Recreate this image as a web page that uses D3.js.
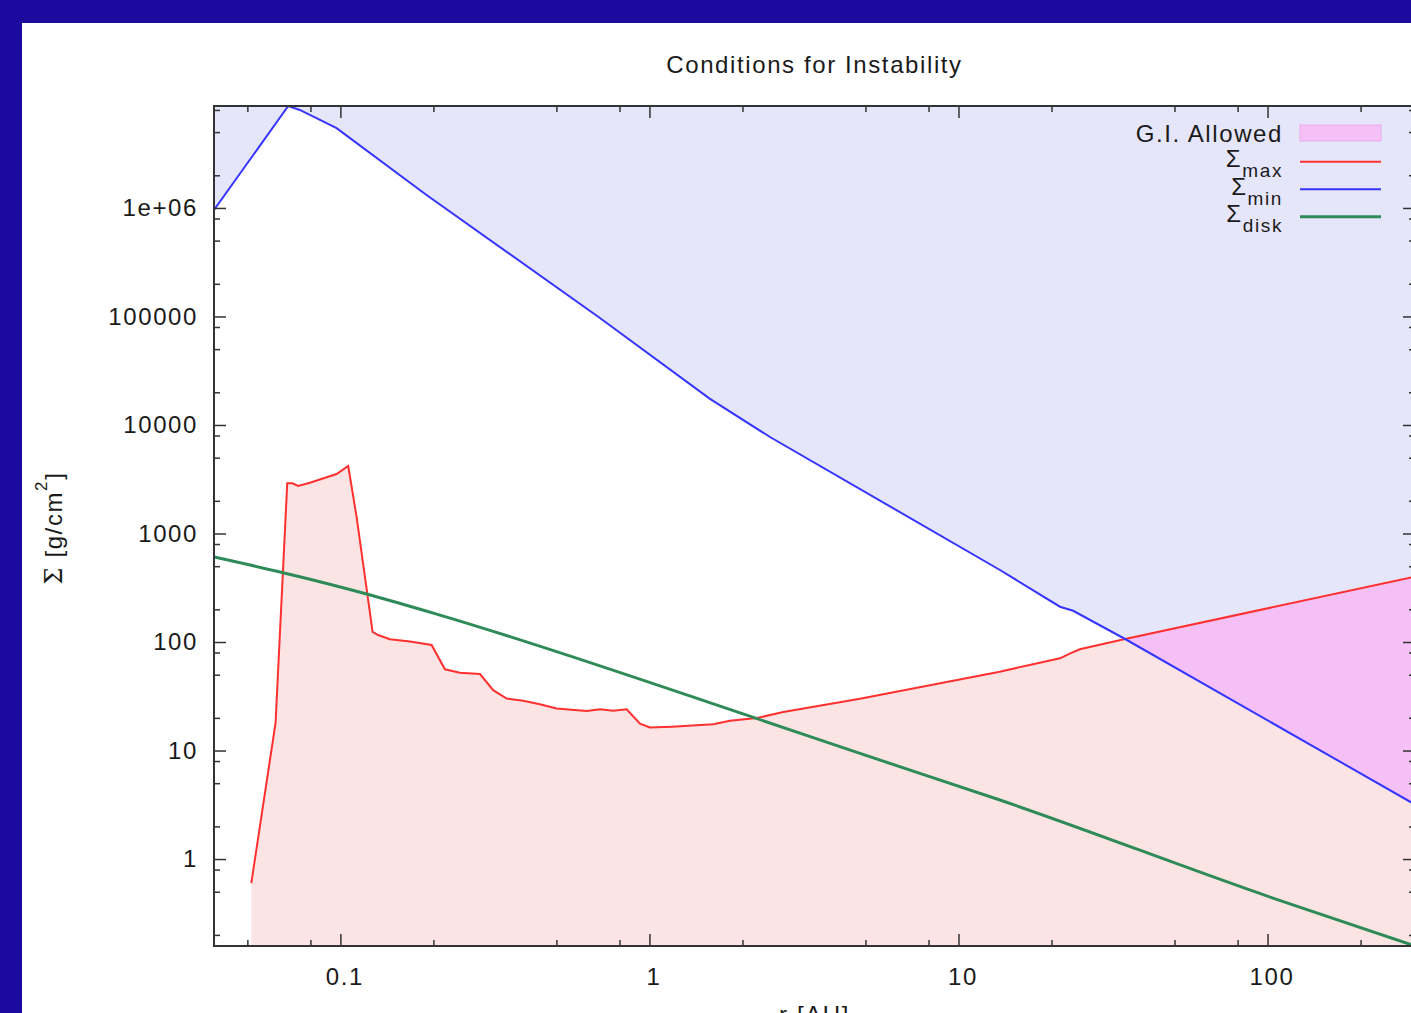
<!DOCTYPE html>
<html>
<head>
<meta charset="utf-8">
<script src="https://cdn.jsdelivr.net/npm/d3@7"></script>
<style>
body { margin: 0; background: #1a0a9e; overflow: hidden; }
text { font-family: "Liberation Sans", Arial, sans-serif; letter-spacing: 1.6px; fill: #1a1a1a; }
</style>
</head>
<body>
<svg id="chart" width="1411" height="1013"></svg>
<script>
// Sigma_max (red) : r [AU], Sigma [g/cm2]
var rMax = [0.0515, 0.0617, 0.0673, 0.0700, 0.0730, 0.0797, 0.0972, 0.106, 0.1128, 0.123,
    0.1271, 0.1325, 0.1446, 0.1679, 0.1973, 0.2179, 0.2436, 0.2829, 0.3123, 0.3451,
    0.3905, 0.4421, 0.5007, 0.6262, 0.6915, 0.7636, 0.8437, 0.9318, 1.004, 1.183,
    1.609, 1.822, 2.223, 2.71, 4.80, 13.6, 21.3, 23.0, 24.7, 34.6, 300];
var sigmaMax = [0.6, 18, 2900, 2900, 2740, 2940, 3535, 4190, 1430, 244,
    124, 116, 106, 101, 94, 56, 52, 50.7, 36, 30.1,
    28.8, 26.7, 24.4, 23.1, 24.0, 23.3, 24.0, 17.7, 16.3, 16.6,
    17.5, 18.8, 19.9, 22.6, 30.0, 53.3, 70.8, 78.7, 85.7, 106.6, 401];

// Sigma_min (blue)
var rMin = [0.039, 0.0678, 0.0739, 0.0972, 0.190, 0.6915, 1.570, 2.455, 13.62, 21.3, 23.5, 34.6, 300];
var sigmaMin = [9.59e5, 8.7e6, 8.0e6, 5.43e6, 1.318e6, 9.69e4, 1.74e4, 7750, 461, 211.5, 194, 106.6, 3.18];

// Sigma_disk (green)
var rDisk = [0.039, 0.0653, 0.1216, 0.210, 2.168, 4.80, 13.62, 105.8, 300];
var sigmaDisk = [607, 435, 277, 177, 20.2, 9.4, 3.50, 0.43, 0.158];

// ticks
var xMajor = [0.1, 1, 10, 100];
var xLabels = ["0.1", "1", "10", "100"];
var xMinor = [0.05, 0.08, 0.2, 0.5, 0.8, 2, 5, 8, 20, 50, 80, 200];
var yMajor = [1, 10, 100, 1000, 1e4, 1e5, 1e6];
var yLabels = ["1", "10", "100", "1000", "10000", "100000", "1e+06"];
var yMinor = [0.2, 0.5, 0.8, 2, 5, 8, 20, 50, 80, 200, 500, 800, 2000, 5000, 8000,
    2e4, 5e4, 8e4, 2e5, 5e5, 8e5, 2e6, 5e6, 8e6];

var legendNames = ["max", "min", "disk"];

var LEFT = 214, RIGHT = 1415, TOP = 106, BOTTOM = 946;

var svg = d3.select("#chart");

// white page
svg.append("rect")
    .attr("x", 22).attr("y", 23)
    .attr("width", 1411).attr("height", 1013)
    .attr("fill", "white");

var x = d3.scaleLog().domain([0.039, 300]).range([LEFT, RIGHT]);
var y = d3.scaleLog().domain([0.158, 8.7e6]).range([BOTTOM, TOP]);

var defs = svg.append("defs");
defs.append("clipPath").attr("id", "plotClip")
    .append("rect")
    .attr("x", LEFT).attr("y", TOP)
    .attr("width", RIGHT - LEFT).attr("height", BOTTOM - TOP);

var maxData = d3.zip(rMax, sigmaMax);
var minData = d3.zip(rMin, sigmaMin);
var diskData = d3.zip(rDisk, sigmaDisk);

var belowArea = d3.area()
    .x(function(d) { return x(d[0]); })
    .y0(BOTTOM)
    .y1(function(d) { return y(d[1]); });

var aboveArea = d3.area()
    .x(function(d) { return x(d[0]); })
    .y0(TOP)
    .y1(function(d) { return y(d[1]); });

var line = d3.line()
    .x(function(d) { return x(d[0]); })
    .y(function(d) { return y(d[1]); });

var smoothLine = d3.line()
    .x(function(d) { return x(d[0]); })
    .y(function(d) { return y(d[1]); })
    .curve(d3.curveMonotoneX);

// region above Sigma_min, used to cut the G.I. allowed zone
defs.append("clipPath").attr("id", "aboveMin")
    .append("path")
    .attr("d", aboveArea(minData));

var plot = svg.append("g").attr("clip-path", "url(#plotClip)");

plot.append("path")
    .attr("d", aboveArea(minData))
    .attr("fill", "#e6e6fa");

plot.append("path")
    .attr("d", belowArea(maxData))
    .attr("fill", "#fde4e4");

plot.append("g")
    .attr("clip-path", "url(#aboveMin)")
    .append("path")
    .attr("d", belowArea(maxData))
    .attr("fill", "#f5c0f5");

plot.append("path")
    .attr("d", line(maxData))
    .attr("fill", "none")
    .attr("stroke", "#ff3030")
    .attr("stroke-width", 2);

plot.append("path")
    .attr("d", line(minData))
    .attr("fill", "none")
    .attr("stroke", "#3535ff")
    .attr("stroke-width", 2);

plot.append("path")
    .attr("d", smoothLine(diskData))
    .attr("fill", "none")
    .attr("stroke", "#2e8b57")
    .attr("stroke-width", 3);

// axes, gnuplot style ticks pointing inwards on all four sides
function styleAxis(g) {
    g.select(".domain").remove();
    g.attr("color", "#333")
        .attr("font-size", 24)
        .attr("font-family", "Liberation Sans, Arial, sans-serif");
    g.selectAll("line").attr("stroke-width", 1.5);
    g.selectAll("text").attr("fill", "#1a1a1a");
}

svg.append("g")
    .attr("transform", "translate(0," + BOTTOM + ")")
    .call(d3.axisBottom(x).tickValues(xMajor)
        .tickFormat(function(d, i) { return xLabels[i]; })
        .tickSize(-12).tickPadding(22))
    .call(styleAxis)
    .selectAll("text").attr("dx", 4);

svg.append("g")
    .attr("transform", "translate(0," + BOTTOM + ")")
    .call(d3.axisBottom(x).tickValues(xMinor).tickFormat("").tickSize(-6))
    .call(styleAxis);

svg.append("g")
    .attr("transform", "translate(0," + TOP + ")")
    .call(d3.axisTop(x).tickValues(xMajor).tickFormat("").tickSize(-12))
    .call(styleAxis);

svg.append("g")
    .attr("transform", "translate(0," + TOP + ")")
    .call(d3.axisTop(x).tickValues(xMinor).tickFormat("").tickSize(-6))
    .call(styleAxis);

svg.append("g")
    .attr("transform", "translate(" + LEFT + ",0)")
    .call(d3.axisLeft(y).tickValues(yMajor)
        .tickFormat(function(d, i) { return yLabels[i]; })
        .tickSize(-12).tickPadding(16))
    .call(styleAxis);

svg.append("g")
    .attr("transform", "translate(" + LEFT + ",0)")
    .call(d3.axisLeft(y).tickValues(yMinor).tickFormat("").tickSize(-6))
    .call(styleAxis);

svg.append("g")
    .attr("transform", "translate(" + RIGHT + ",0)")
    .call(d3.axisRight(y).tickValues(yMajor).tickFormat("").tickSize(-12))
    .call(styleAxis);

svg.append("g")
    .attr("transform", "translate(" + RIGHT + ",0)")
    .call(d3.axisRight(y).tickValues(yMinor).tickFormat("").tickSize(-6))
    .call(styleAxis);

// frame
svg.append("rect")
    .attr("x", LEFT).attr("y", TOP)
    .attr("width", RIGHT - LEFT).attr("height", BOTTOM - TOP)
    .attr("fill", "none")
    .attr("stroke", "#333")
    .attr("stroke-width", 2);

// title + axis labels (x label sits below the visible window, as in the source)
svg.append("text")
    .attr("x", (LEFT + RIGHT) / 2).attr("y", 73)
    .attr("text-anchor", "middle")
    .attr("font-size", 24)
    .text("Conditions for Instability");

svg.append("text")
    .attr("x", (LEFT + RIGHT) / 2).attr("y", 1023)
    .attr("text-anchor", "middle")
    .attr("font-size", 24)
    .text("r [AU]");

var ylab = svg.append("text")
    .attr("transform", "translate(62,528) rotate(-90)")
    .attr("text-anchor", "middle")
    .attr("font-size", 24);
ylab.append("tspan").attr("font-family", "DejaVu Serif, serif").text("\u03A3");
ylab.append("tspan").text(" [g/cm");
ylab.append("tspan").attr("font-size", 17).attr("dy", -15).text("2");
ylab.append("tspan").attr("dy", 15).text("]");

// legend
var legend = svg.append("g");
var legText = 1283, legX0 = 1300, legX1 = 1381;

legend.append("text")
    .attr("x", legText).attr("y", 142)
    .attr("text-anchor", "end")
    .attr("font-size", 24)
    .text("G.I. Allowed");
legend.append("rect")
    .attr("x", legX0).attr("y", 125)
    .attr("width", legX1 - legX0).attr("height", 16)
    .attr("fill", "#f5c0f5")
    .attr("stroke", "#eeaaee")
    .attr("stroke-width", 1);

var legRows = [
    { y: 161.7, color: "#ff3030", w: 2 },
    { y: 189.3, color: "#3535ff", w: 2 },
    { y: 216.7, color: "#2e8b57", w: 3 }
];
legRows.forEach(function(row, i) {
    var t = legend.append("text")
        .attr("x", legText).attr("y", row.y + 5.5)
        .attr("text-anchor", "end")
        .attr("font-size", 24);
    t.append("tspan").text("\u03A3");
    t.append("tspan").attr("font-size", 19).attr("dy", 10).text(legendNames[i]);
    legend.append("line")
        .attr("x1", legX0).attr("x2", legX1)
        .attr("y1", row.y).attr("y2", row.y)
        .attr("stroke", row.color)
        .attr("stroke-width", row.w);
});
</script>
</body>
</html>
